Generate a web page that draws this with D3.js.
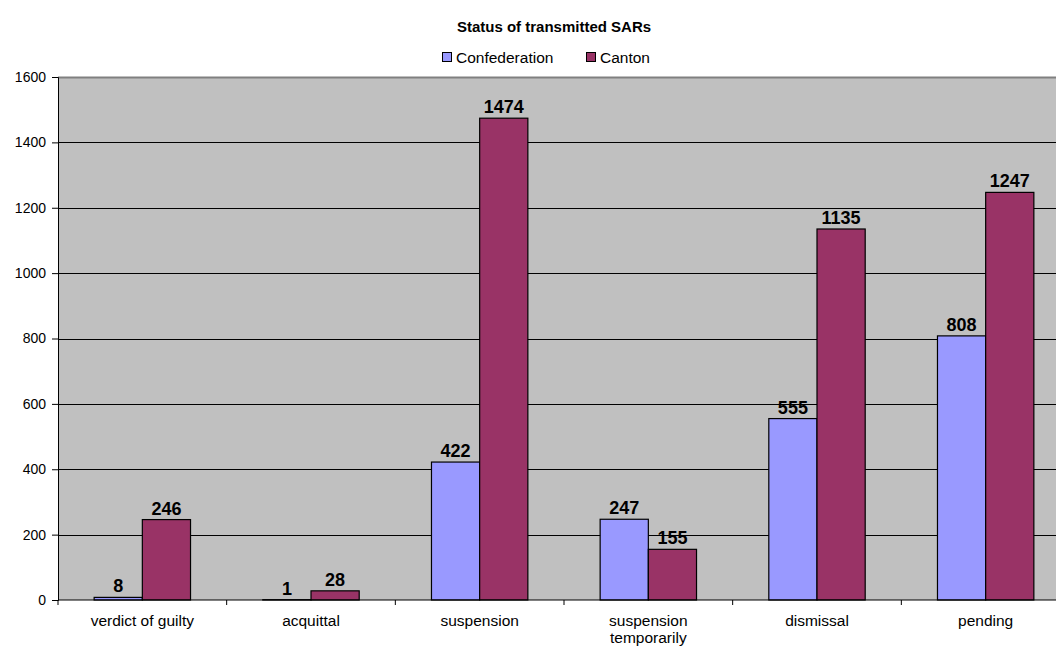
<!DOCTYPE html>
<html>
<head>
<meta charset="utf-8">
<script src="https://cdn.jsdelivr.net/npm/d3@7"></script>
<style>
  body { margin: 0; background: #fff; }
  svg { display: block; font-family: Arial, "Liberation Sans", sans-serif; }
</style>
</head>
<body>
<svg></svg>
<script>
const categories = ['verdict of guilty', 'acquittal', 'suspension', 'suspension temporarily', 'dismissal', 'pending'];
const seriesNames = ['Confederation', 'Canton'];
const confederation = [8, 1, 422, 247, 555, 808];
const canton = [246, 28, 1474, 155, 1135, 1247];
const yTicks = [0, 200, 400, 600, 800, 1000, 1200, 1400, 1600];
const colors = ['#9999FF', '#993366'];

const WIDTH = 1056,
      HEIGHT = 646,
      MARGINS = { top: 77, right: -14, bottom: 46, left: 58 };

const svg = d3.select('svg').attr('width', WIDTH).attr('height', HEIGHT);
const iw = WIDTH - MARGINS.left - MARGINS.right,
      ih = HEIGHT - MARGINS.top - MARGINS.bottom;

const x = d3.scaleBand().domain(categories).range([0, iw]);
// bar width = category / 3.5, i.e. 0.75 bar of gap each side (Excel 150% gap)
const x1 = d3.scaleBand().domain(seriesNames)
  .range([x.bandwidth() * 0.75 / 3.5, x.bandwidth() * 2.75 / 3.5]);
const y = d3.scaleLinear().domain([0, 1600]).range([ih, 0]);

const g = svg.append('g').attr('transform', `translate(${MARGINS.left},${MARGINS.top})`);

g.append('rect').attr('width', iw).attr('height', ih).attr('fill', '#C0C0C0');

g.append('g').selectAll('line').data(yTicks.slice(1)).join('line')
  .attr('x1', 0).attr('x2', iw)
  .attr('y1', d => Math.round(y(d)) + 0.5).attr('y2', d => Math.round(y(d)) + 0.5)
  .attr('stroke', d => d === 1600 ? '#808080' : '#000').attr('stroke-width', d => d === 1600 ? 2 : 1);

const rows = categories.map((c, i) => ({ c, vals: [confederation[i], canton[i]] }));

const grp = g.selectAll('.grp').data(rows).join('g').attr('transform', d => `translate(${x(d.c)},0)`);
grp.selectAll('rect').data(d => d.vals.map((v, j) => ({ v, s: seriesNames[j], j }))).join('rect')
  .attr('x', d => x1(d.s)).attr('width', x1.bandwidth())
  .attr('y', d => y(d.v)).attr('height', d => ih - y(d.v))
  .attr('fill', d => colors[d.j]).attr('stroke', '#000').attr('stroke-width', 1.2);
grp.selectAll('text').data(d => d.vals.map((v, j) => ({ v, s: seriesNames[j] }))).join('text')
  .attr('x', d => x1(d.s) + x1.bandwidth() / 2).attr('y', d => y(d.v) - 5)
  .attr('text-anchor', 'middle').attr('font-size', 18).attr('font-weight', 'bold')
  .text(d => d.v);

// y axis
const ya = g.append('g').call(d3.axisLeft(y).tickValues(yTicks).tickFormat(d3.format('d')).tickSize(6).tickPadding(6));
ya.selectAll('text').attr('font-size', 14).attr('fill', '#000').attr('font-family', 'Arial, "Liberation Sans", sans-serif');
ya.select('.domain').attr('stroke', '#000');

// x axis
const xa = g.append('g').attr('transform', `translate(0,${ih})`);
xa.append('line').attr('x1', 0).attr('x2', iw).attr('stroke', '#000');
xa.selectAll('.tk').data(d3.range(categories.length + 1)).join('line')
  .attr('x1', i => i * x.bandwidth()).attr('x2', i => i * x.bandwidth())
  .attr('y1', 0).attr('y2', 5).attr('stroke', '#000');
xa.selectAll('text').data(categories).join('text')
  .attr('text-anchor', 'middle').attr('font-size', 15.5)
  .attr('x', d => x(d) + x.bandwidth() / 2)
  .each(function (d) {
    const words = d === 'suspension temporarily' ? ['suspension', 'temporarily'] : [d];
    d3.select(this).selectAll('tspan').data(words).join('tspan')
      .attr('x', x(d) + x.bandwidth() / 2).attr('y', (w, k) => 26 + k * 17).text(w => w);
  });

// title
svg.append('text').attr('x', 554).attr('y', 32).attr('text-anchor', 'middle')
  .attr('font-size', 15).attr('font-weight', 'bold').text('Status of transmitted SARs');

// legend
const legX = [442, 586];
const leg = svg.selectAll('.leg').data(seriesNames).join('g').attr('transform', (d, i) => `translate(${legX[i]},52)`);
leg.append('rect').attr('width', 9).attr('height', 9).attr('x', 0.5).attr('y', 0.5).attr('fill', (d, i) => colors[i]).attr('stroke', '#000');
leg.append('text').attr('x', 14).attr('y', 10.5).attr('font-size', 15.5).text(d => d);
</script>
</body>
</html>
